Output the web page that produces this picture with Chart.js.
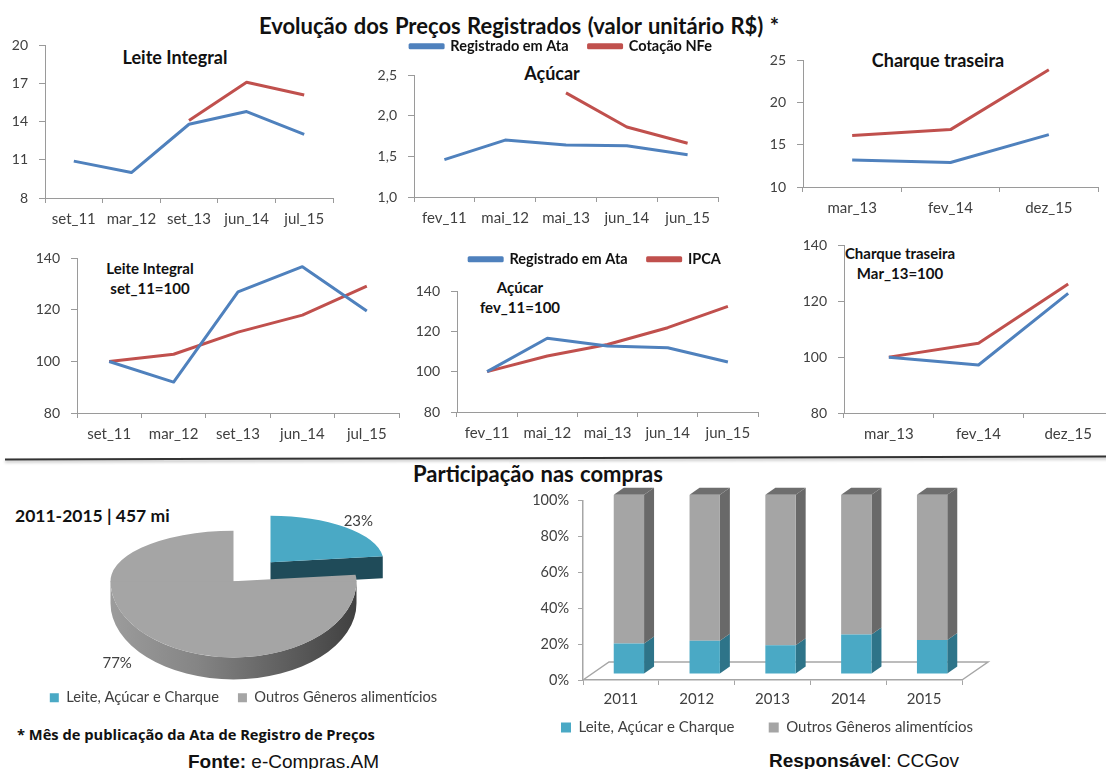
<!DOCTYPE html>
<html lang="pt-BR">
<head>
<meta charset="utf-8">
<title>Evolução dos Preços Registrados</title>
<script src="https://cdn.jsdelivr.net/npm/chart.js@4"></script>
<style>
    html, body { margin: 0; padding: 0; background: #fff; width: 1106px; height: 769px; overflow: hidden; }
    body { position: relative; font-family: Lato, sans-serif; color: #111; }
    canvas { position: absolute; }
    .txt { position: absolute; white-space: nowrap; line-height: 1; font-weight: 700; }
    .mid { transform: translate(-50%, -50%); text-align: center; }
    .sub { font-size: 15px; line-height: 20px; }
    .head { font-size: 18px; }
    .big { font-size: 22px; word-spacing: 1px; }
    .src { font-family: "Liberation Sans", sans-serif; font-size: 19px; font-weight: 400; }
    .rule { position: absolute; left: 5px; top: 457px; width: 1110px; height: 2px; background: #333;
        box-shadow: 0 2px 3px #bbb; transform: rotate(-0.15deg); }
</style>
</head>
<body>
<div class="txt mid big" style="left:519px;top:26px">Evolução dos Preços Registrados (valor unitário R$) *</div>
<div class="txt mid head" style="left:175px;top:57px">Leite Integral</div>
<div class="txt mid head" style="left:552px;top:73px">Açúcar</div>
<div class="txt mid head" style="left:938px;top:60px">Charque traseira</div>
<div class="txt mid sub" style="left:150px;top:278px">Leite Integral<br>set_11=100</div>
<div class="txt mid sub" style="left:520px;top:297px">Açúcar<br>fev_11=100</div>
<div class="txt mid sub" style="left:900px;top:263px">Charque traseira<br>Mar_13=100</div>
<div class="rule"></div>
<div class="txt mid big" style="left:538px;top:474px">Participação nas compras</div>
<div class="txt" style="left:15px;top:507px;font-size:17.5px">2011-2015 | 457 mi</div>
<div class="txt" style="left:17px;top:727px;font-size:14.7px;font-family:'Open Sans',sans-serif">* Mês de publicação da Ata de Registro de Preços</div>
<div class="txt src" style="left:188px;top:752px"><b>Fonte:</b> e-Compras.AM</div>
<div class="txt src" style="left:769px;top:751px"><b>Responsável</b>: CCGov</div>

<canvas id="leite"></canvas>
<canvas id="acucar"></canvas>
<canvas id="charque"></canvas>
<canvas id="leiteIdx"></canvas>
<canvas id="acucarIdx"></canvas>
<canvas id="charqueIdx"></canvas>
<canvas id="pie"></canvas>
<canvas id="bars"></canvas>

<script>
// top row: unit prices
const leiteLabels = ['set_11', 'mar_12', 'set_13', 'jun_14', 'jul_15'];
const leiteAta = [10.9, 10.0, 13.8, 14.8, 13.0];
const leiteNfe = [null, null, 14.1, 17.1, 16.1];

const acucarLabels = ['fev_11', 'mai_12', 'mai_13', 'jun_14', 'jun_15'];
const acucarAta = [1.46, 1.70, 1.64, 1.63, 1.52];
const acucarNfe = [null, null, 2.28, 1.86, 1.66];

const charqueLabels = ['mar_13', 'fev_14', 'dez_15'];
const charqueAta = [13.2, 12.9, 16.2];
const charqueNfe = [16.1, 16.8, 23.9];

// second row: index numbers
const leiteIdxAta = [100, 92, 127, 136.8, 119.6];
const leiteIdxIpca = [100, 102.8, 111.4, 118, 129.2];
const acucarIdxAta = [100, 116.6, 112.7, 111.9, 104.8];
const acucarIdxIpca = [100, 107.8, 113.5, 121.8, 132.4];
const charqueIdxAta = [100, 97.2, 122.8];
const charqueIdxIpca = [100, 105, 126.2];

// share of purchases
const pieLabels = ['Leite, Açúcar e Charque', 'Outros Gêneros alimentícios'];
const pieValues = [23, 77];
const barYears = ['2011', '2012', '2013', '2014', '2015'];
const barLeite = [17, 18.5, 16, 22, 19];
const barOutros = [83, 81.5, 84, 78, 81];

const BLUE = '#4f81bd';
const RED = '#c0504d';
const TEAL = '#4aa9c5';
const GREY = '#a5a5a5';
const AXIS = '#9a9a9a';
const TICK = '#404040';
const FONT = 'Lato';

Chart.defaults.font.family = FONT;
Chart.defaults.animation = false;
Chart.defaults.responsive = false;

function place(id, left, top, width, height) {
    const canvas = document.getElementById(id);
    canvas.width = width;
    canvas.height = height;
    canvas.style.left = left + 'px';
    canvas.style.top = top + 'px';
    return canvas;
}

// invisible axis, only keeps room next to the plot so the legend lands where it should
function spacerAxis(position, size) {
    return {
        axis: position === 'top' ? 'x' : 'y',
        position: position,
        afterFit(scale) {
            if (position === 'top') scale.height = size;
            else scale.width = size;
        },
        grid: { display: false },
        border: { display: false },
        ticks: { display: false }
    };
}

// box = plot area in page pixels
function lineChart(id, box, labels, ata, other, otherName, yTicks, legend) {
    const axisW = 40;
    const gap = legend ? legend.gap : 10;
    // without a legend the library keeps some more room for the top tick label
    const above = legend ? 44.5 : 9;
    const spacer = legend ? legend.spacer : 0;
    const left = box.l - axisW;
    const top = box.t - gap - above;
    const canvas = place(id, left, top, box.r - left + spacer + 1, box.b - top + 38);

    const scales = {
        x: {
            offset: true,
            afterFit(scale) { scale.height = 38; },
            grid: { offset: true, drawOnChartArea: false, color: AXIS, tickLength: 5 },
            border: { color: AXIS },
            ticks: { color: TICK, font: { size: 15 }, padding: 7, maxRotation: 0 }
        },
        y: {
            min: yTicks[0],
            max: yTicks[yTicks.length - 1],
            afterBuildTicks(scale) { scale.ticks = yTicks.map(v => ({ value: v })); },
            afterFit(scale) { scale.width = axisW; },
            grid: { drawOnChartArea: false, color: AXIS, tickLength: 6 },
            border: { color: AXIS },
            ticks: {
                color: TICK,
                font: { size: 14 },
                padding: 11,
                callback: yTicks[0] === 1 ? v => v.toFixed(1).replace('.', ',') : v => v
            }
        },
        spaceTop: spacerAxis('top', gap)
    };
    if (legend) scales.spaceRight = spacerAxis('right', spacer);

    return new Chart(canvas, {
        type: 'line',
        data: {
            labels: labels,
            datasets: [
                { label: 'Registrado em Ata', data: ata, borderColor: BLUE, backgroundColor: BLUE },
                { label: otherName, data: other, borderColor: RED, backgroundColor: RED }
            ]
        },
        options: {
            layout: { autoPadding: false, padding: { right: 1 } },
            elements: {
                line: { borderWidth: 3, tension: 0, borderJoinStyle: 'round', borderCapStyle: 'butt' },
                point: { radius: 0 }
            },
            plugins: {
                tooltip: { enabled: false },
                legend: legend ? {
                    position: 'top',
                    labels: {
                        boxWidth: 33,
                        boxHeight: 3,
                        padding: 20,
                        color: '#111',
                        font: { size: 14.5, weight: 'bold' }
                    }
                } : { display: false }
            },
            scales: scales
        }
    });
}

lineChart('leite', { l: 45, r: 333, t: 45, b: 198 }, leiteLabels, leiteAta, leiteNfe, 'Cotação NFe', [8, 11, 14, 17, 20]);
lineChart('acucar', { l: 414, r: 718, t: 75, b: 197 }, acucarLabels, acucarAta, acucarNfe, 'Cotação NFe', [1, 1.5, 2, 2.5],
    { spacer: 30, gap: 11.5 });
lineChart('charque', { l: 803, r: 1098, t: 60, b: 187 }, charqueLabels, charqueAta, charqueNfe, 'Cotação NFe', [10, 15, 20, 25]);
lineChart('leiteIdx', { l: 77, r: 399, t: 258, b: 413 }, leiteLabels, leiteIdxAta, leiteIdxIpca, 'IPCA', [80, 100, 120, 140]);
lineChart('acucarIdx', { l: 457, r: 758, t: 291, b: 412 }, acucarLabels, acucarIdxAta, acucarIdxIpca, 'IPCA', [80, 100, 120, 140],
    { spacer: 15, gap: 14.5 });
lineChart('charqueIdx', { l: 844, r: 1113, t: 245, b: 413 }, charqueLabels, charqueIdxAta, charqueIdxIpca, 'IPCA', [80, 100, 120, 140]);

// 3D look for the pie: the library's arcs are squashed around their vertex
const pieBack = 0.41;
const pieFront = 0.62;
const pieDepth = 22;
const pieShift = [{ x: 27, y: -19, scale: 0.92, label: 1.08 }, { x: -10, y: 0, scale: 1, label: 1.43 }];

function drawFlatArc(ctx, arc, shift) {
    const cx = arc.x + shift.x;
    const cy = arc.y + shift.y;
    // the two halves overlap a little so no seam shows between them
    [[cy - 400, 401, pieBack], [cy, 400, pieFront]].forEach(([clipTop, clipH, squash]) => {
        ctx.save();
        ctx.beginPath();
        ctx.rect(cx - 400, clipTop, 800, clipH);
        ctx.clip();
        ctx.translate(cx, cy);
        ctx.scale(shift.scale, shift.scale * squash);
        ctx.translate(-arc.x, -arc.y);
        arc.draw(ctx);
        ctx.restore();
    });
}

const pie3d = {
    id: 'pie3d',
    beforeDatasetsDraw(chart) {
        const ctx = chart.ctx;
        const arcs = chart.getDatasetMeta(0).data;

        // small slice first, its cut face is seen in front
        const small = arcs[0];
        const sh0 = pieShift[0];
        const r0 = small.outerRadius * sh0.scale;
        const vx = small.x + sh0.x;
        const vy = small.y + sh0.y;
        const ex = vx + r0 * Math.cos(small.endAngle);
        const ey = vy + r0 * pieBack * Math.sin(small.endAngle);
        ctx.fillStyle = '#1f4b59';
        ctx.beginPath();
        ctx.moveTo(vx, vy);
        ctx.lineTo(ex, ey);
        ctx.lineTo(ex, ey + pieDepth);
        ctx.lineTo(vx, vy + pieDepth);
        ctx.closePath();
        ctx.fill();
        drawFlatArc(ctx, small, sh0);

        // big slice with its curved wall
        const big = arcs[1];
        const sh1 = pieShift[1];
        const r1 = big.outerRadius;
        const bx = big.x + sh1.x;
        const by = big.y + sh1.y;
        const a0 = Math.max(0, big.startAngle);
        const a1 = Math.min(Math.PI, big.endAngle);
        const wall = ctx.createLinearGradient(bx - r1, 0, bx + r1, 0);
        wall.addColorStop(0, '#9c9c9c');
        wall.addColorStop(0.35, '#858585');
        wall.addColorStop(0.65, '#656565');
        wall.addColorStop(1, '#404040');
        ctx.fillStyle = wall;
        ctx.beginPath();
        ctx.ellipse(bx, by, r1, r1 * pieFront, 0, a0, a1, false);
        ctx.ellipse(bx, by + pieDepth, r1, r1 * pieFront, 0, a1, a0, true);
        ctx.closePath();
        ctx.fill();
        drawFlatArc(ctx, big, sh1);

        // percent labels
        ctx.fillStyle = TICK;
        ctx.font = '15px ' + FONT;
        ctx.textAlign = 'center';
        ctx.textBaseline = 'middle';
        arcs.forEach((arc, i) => {
            const sh = pieShift[i];
            const mid = (arc.startAngle + arc.endAngle) / 2;
            const r = arc.outerRadius * sh.label;
            const sin = Math.sin(mid);
            ctx.fillText(pieValues[i] + '%',
                arc.x + sh.x + r * Math.cos(mid),
                arc.y + sh.y + r * sin * (sin < 0 ? pieBack : pieFront));
        });
        return false;
    }
};

new Chart(place('pie', 23, 491, 441, 224), {
    type: 'pie',
    data: {
        labels: pieLabels,
        datasets: [{ data: pieValues, backgroundColor: [TEAL, GREY], borderWidth: 0, radius: 123 }]
    },
    options: {
        layout: { autoPadding: false },
        plugins: {
            tooltip: { enabled: false },
            legend: {
                position: 'bottom',
                labels: { boxWidth: 9, boxHeight: 9, padding: 19, color: TICK, font: { size: 14.7 } }
            }
        }
    },
    plugins: [pie3d]
});

// 3D look for the columns: floor, side and top faces come from the bar elements
const barLift = { x: 8, y: -6 };
const barDepth = { x: 10, y: -7 };
const floorDepth = { x: 26, y: -18 };
const sideColors = ['#2e7489', '#696969'];

const bars3d = {
    id: 'bars3d',
    beforeDatasetsDraw(chart) {
        const ctx = chart.ctx;
        const a = chart.chartArea;
        ctx.strokeStyle = '#a6a6a6';
        ctx.lineWidth = 1.5;
        ctx.beginPath();
        ctx.moveTo(a.left, a.bottom);
        ctx.lineTo(a.left + floorDepth.x, a.bottom + floorDepth.y);
        ctx.lineTo(a.right + floorDepth.x, a.bottom + floorDepth.y);
        ctx.lineTo(a.right, a.bottom);
        ctx.stroke();

        ctx.save();
        ctx.translate(barLift.x, barLift.y);
        chart.data.datasets.forEach((ds, d) => {
            chart.getDatasetMeta(d).data.forEach(bar => {
                const right = bar.x + bar.width / 2;
                ctx.fillStyle = sideColors[d];
                ctx.beginPath();
                ctx.moveTo(right, bar.base);
                ctx.lineTo(right, bar.y);
                ctx.lineTo(right + barDepth.x, bar.y + barDepth.y);
                ctx.lineTo(right + barDepth.x, bar.base + barDepth.y);
                ctx.closePath();
                ctx.fill();
                if (d === chart.data.datasets.length - 1) {
                    const leftX = bar.x - bar.width / 2;
                    ctx.fillStyle = '#6e6e6e';
                    ctx.beginPath();
                    ctx.moveTo(leftX, bar.y);
                    ctx.lineTo(right, bar.y);
                    ctx.lineTo(right + barDepth.x, bar.y + barDepth.y);
                    ctx.lineTo(leftX + barDepth.x, bar.y + barDepth.y);
                    ctx.closePath();
                    ctx.fill();
                }
            });
        });
    },
    afterDatasetsDraw(chart) {
        chart.ctx.restore();
    }
};

new Chart(place('bars', 533, 483, 468, 262), {
    type: 'bar',
    data: {
        labels: barYears,
        datasets: [
            { label: pieLabels[0], data: barLeite, backgroundColor: TEAL },
            { label: pieLabels[1], data: barOutros, backgroundColor: GREY }
        ]
    },
    options: {
        layout: { autoPadding: false },
        datasets: { bar: { barPercentage: 0.4, categoryPercentage: 1, borderWidth: 0 } },
        plugins: {
            tooltip: { enabled: false },
            legend: {
                position: 'bottom',
                labels: {
                    boxWidth: 10,
                    boxHeight: 10,
                    padding: 15,
                    color: TICK,
                    font: { size: 15 },
                    generateLabels(chart) {
                        const items = Chart.defaults.plugins.legend.labels.generateLabels(chart);
                        items[0].text += '\u00A0'.repeat(5);
                        return items;
                    }
                }
            }
        },
        scales: {
            x: {
                stacked: true,
                afterFit(scale) { scale.height = 25; },
                grid: { offset: true, drawOnChartArea: false, color: '#a6a6a6', tickLength: 5 },
                border: { color: '#a6a6a6', width: 1.5 },
                ticks: { color: TICK, font: { size: 15 }, padding: 5, maxRotation: 0 }
            },
            y: {
                stacked: true,
                min: 0,
                max: 100,
                afterFit(scale) { scale.width = 50; },
                grid: { drawOnChartArea: false, color: '#a6a6a6', tickLength: 5 },
                border: { color: '#a6a6a6', width: 1.5 },
                ticks: { stepSize: 20, color: TICK, font: { size: 14.5 }, padding: 9, callback: v => v + '%' }
            },
            spaceRight: spacerAxis('right', 39),
            spaceTop: spacerAxis('top', 10)
        }
    },
    plugins: [bars3d]
});
</script>
</body>
</html>
